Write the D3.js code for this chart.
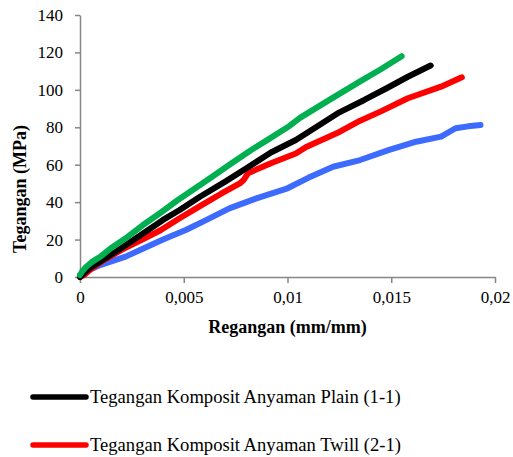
<!DOCTYPE html>
<html>
<head>
<meta charset="utf-8">
<script src="https://cdn.jsdelivr.net/npm/d3@7"></script>
<style>
  body { margin: 0; background: #fff; }
  svg text { font-family: "Liberation Serif", "Times New Roman", serif !important; fill: #000; }
</style>
</head>
<body>
<div id="chart"></div>
<script>
// strain (mm/mm) , stress (MPa)
const plain = [[0,0],[0.0005,5],[0.001,8.5],[0.002,15.5],[0.003,23],[0.004,30.5],[0.0048,35.8],[0.0058,43],[0.007,51],[0.008,58],[0.0092,66.5],[0.0104,73.2],[0.0115,81],[0.0125,88],[0.0137,94.6],[0.0148,101],[0.0158,107],[0.0169,113]];
const twill = [[0,0],[0.0002,1],[0.0005,4],[0.001,8],[0.002,14.5],[0.003,20],[0.0039,25.1],[0.0048,31.4],[0.0058,38],[0.0068,44.5],[0.0077,50],[0.0079,52],[0.0081,55.5],[0.0092,60.8],[0.0104,66],[0.0109,69.5],[0.0125,77.5],[0.0135,83.5],[0.0145,88.5],[0.0158,95.5],[0.0174,101.7],[0.0184,106.7]];
const satin = [[0,1],[0.0001,3],[0.0003,5.5],[0.0006,8.2],[0.001,11],[0.0015,15.5],[0.0022,20.7],[0.003,27.5],[0.0039,34.5],[0.0047,41],[0.0055,47],[0.0063,53],[0.0072,60],[0.0082,67.5],[0.009,73],[0.01,80],[0.0106,85],[0.012,94.5],[0.0135,104.5],[0.0145,111],[0.0155,118]];
const basket = [[0,1],[0.0003,3],[0.0006,4.6],[0.001,6.5],[0.0022,10.9],[0.003,15],[0.004,20],[0.0051,25.1],[0.006,30],[0.0072,36.7],[0.0085,42],[0.01,47.4],[0.011,53],[0.0122,58.9],[0.0135,62.5],[0.0149,67.9],[0.0162,72.3],[0.0174,75],[0.0181,79.5],[0.0187,80.5],[0.0193,81.2]];

const seriesNames = ["Tegangan Komposit Anyaman Plain (1-1)", "Tegangan Komposit Anyaman Twill (2-1)"];
const xTicks = [0, 0.005, 0.01, 0.015, 0.02];
const xTickLabels = ["0", "0,005", "0,01", "0,015", "0,02"];
const yTicks = [0, 20, 40, 60, 80, 100, 120, 140];

const width = 513, height = 457;
const margin = { top: 15, right: 18, bottom: 180, left: 80 };
const serif = '"Liberation Serif", "Times New Roman", serif';

const svg = d3.select("#chart").append("svg")
  .attr("width", width)
  .attr("height", height);

const x = d3.scaleLinear([0, 0.02], [margin.left, width - margin.right]);
const y = d3.scaleLinear([0, 140], [height - margin.bottom, margin.top]);

const axisColor = "#868686";

// y axis
const gy = svg.append("g")
  .attr("transform", `translate(${margin.left},0)`)
  .call(d3.axisLeft(y).tickValues(yTicks).tickSize(5).tickPadding(12).tickSizeOuter(0))
  .attr("font-family", null);
gy.select(".domain").attr("stroke", axisColor).attr("stroke-width", 1.5);
gy.selectAll(".tick line").attr("stroke", axisColor).attr("stroke-width", 1.5);
gy.selectAll(".tick text").attr("font-size", 17).style("font-family", serif).attr("fill", "#000");

// x axis
const gx = svg.append("g")
  .attr("transform", `translate(0,${y(0)})`)
  .call(d3.axisBottom(x).tickValues(xTicks).tickFormat((d, i) => xTickLabels[i]).tickSize(6).tickPadding(8).tickSizeOuter(0))
  .attr("font-family", null);
gx.select(".domain").attr("stroke", axisColor).attr("stroke-width", 1.5);
gx.selectAll(".tick line").attr("stroke", axisColor).attr("stroke-width", 1.5);
gx.selectAll(".tick text").attr("font-size", 17).style("font-family", serif).attr("fill", "#000");

// titles
svg.append("text")
  .attr("x", (x(0) + x(0.02)) / 2)
  .attr("y", 333)
  .attr("text-anchor", "middle")
  .attr("font-size", 18)
  .attr("font-weight", "bold")
  .style("font-family", serif)
  .text("Regangan (mm/mm)");

svg.append("text")
  .attr("transform", "translate(26,189) rotate(-90)")
  .attr("text-anchor", "middle")
  .attr("font-size", 18)
  .attr("font-weight", "bold")
  .style("font-family", serif)
  .text("Tegangan (MPa)");

// curves
const line = d3.line().x(d => x(d[0])).y(d => y(d[1]));
const curves = [
  { data: basket, color: "#3d6bff" },
  { data: twill, color: "#ff0000" },
  { data: plain, color: "#000000" },
  { data: satin, color: "#00b050" }
];
svg.selectAll("path.curve")
  .data(curves)
  .enter().append("path")
  .attr("class", "curve")
  .attr("d", d => line(d.data))
  .attr("fill", "none")
  .attr("stroke", d => d.color)
  .attr("stroke-width", 6)
  .attr("stroke-linejoin", "round")
  .attr("stroke-linecap", "round");

// legend (only the first two entries are visible)
const legendColors = ["#000000", "#ff0000"];
const legend = svg.selectAll("g.legend")
  .data(seriesNames)
  .enter().append("g")
  .attr("class", "legend")
  .attr("transform", (d, i) => `translate(0,${397 + i * 48})`);
legend.append("line")
  .attr("x1", 33).attr("x2", 86)
  .attr("y1", 0).attr("y2", 0)
  .attr("stroke", (d, i) => legendColors[i])
  .attr("stroke-width", 5.5)
  .attr("stroke-linecap", "round");
legend.append("text")
  .attr("x", 90)
  .attr("y", 6)
  .attr("font-size", 18.6)
  .style("font-family", serif)
  .text(d => d);
</script>
</body>
</html>
